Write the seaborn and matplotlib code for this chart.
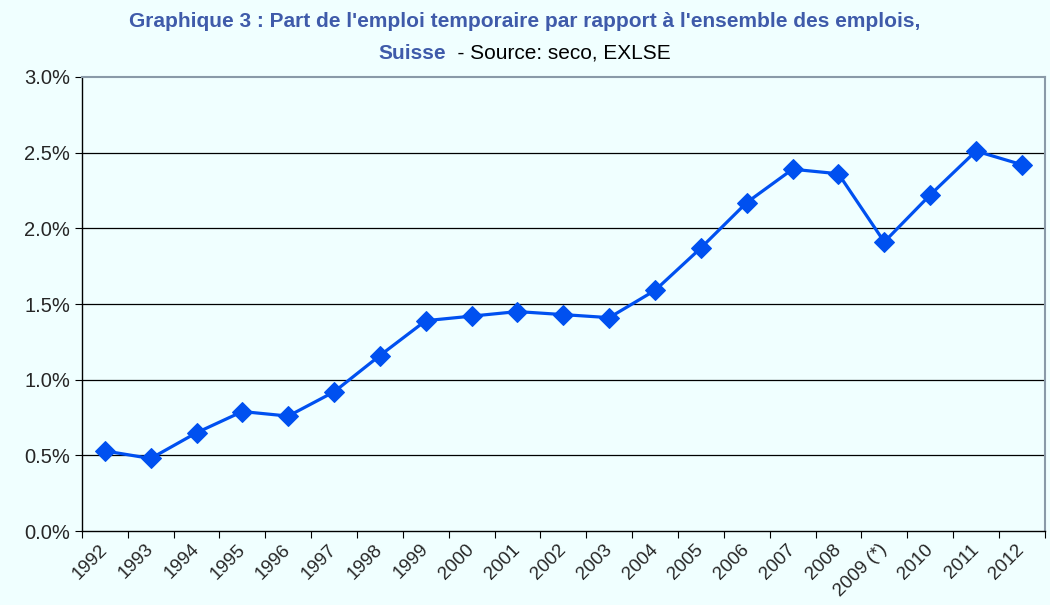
import pandas as pd
import seaborn as sns
import matplotlib.pyplot as plt
import matplotlib.transforms as mtrans
import numpy as np

years = ["1992", "1993", "1994", "1995", "1996", "1997", "1998", "1999", "2000", "2001",
         "2002", "2003", "2004", "2005", "2006", "2007", "2008", "2009 (*)", "2010", "2011", "2012"]
share = [0.53, 0.48, 0.65, 0.79, 0.76, 0.92, 1.16, 1.39, 1.42, 1.45,
         1.43, 1.41, 1.59, 1.87, 2.17, 2.39, 2.36, 1.91, 2.22, 2.51, 2.42]

sns.set_style("white")
plt.rcParams['font.family'] = ['Liberation Sans', 'DejaVu Sans']

bg = '#F0FFFF'
df = pd.DataFrame({"pos": np.arange(len(years)), "share": share})

fig = plt.figure(figsize=(10.5, 6.05), dpi=100, facecolor=bg)
ax = fig.add_axes([0.078, 0.122, 0.917, 0.751])
ax.set_facecolor(bg)

sns.lineplot(data=df, x="pos", y="share", ax=ax, color='#0050F0', lw=2.3,
             marker='D', markersize=10.5, markeredgecolor='#0050F0')

n = len(years)
ax.set_xlim(-0.5, n - 0.5)
ax.set_ylim(0, 3.0)
ax.set_yticks(np.arange(0, 3.01, 0.5))
ax.set_yticklabels([f"{v:.1f}%" for v in np.arange(0, 3.01, 0.5)], fontsize=14.5)
for v in np.arange(0.5, 2.6, 0.5):
    ax.axhline(v, color='black', lw=0.9, zorder=0)

ax.set_xticks(np.arange(-0.5, n, 1.0))
ax.set_xticklabels([])
ax.set_xticks(np.arange(n), minor=True)
ax.set_xticklabels(years, minor=True, rotation=45, ha='right', rotation_mode='anchor', fontsize=13.5)
ax.tick_params(axis='x', which='minor', length=0, pad=7)
ax.tick_params(axis='x', which='major', length=5, direction='out', color='black', bottom=True)
ax.tick_params(axis='y', length=5, direction='out', color='black', left=True)
shift = mtrans.ScaledTranslation(-6 / 100, 0, fig.dpi_scale_trans)
for lab in ax.get_xticklabels(minor=True):
    lab.set_transform(lab.get_transform() + shift)

ax.set_xlabel("")
ax.set_ylabel("")
for s in ['left', 'bottom']:
    ax.spines[s].set_color('black')
    ax.spines[s].set_linewidth(1.0)
for s in ['top', 'right']:
    ax.spines[s].set_color('#8A9AA8')
    ax.spines[s].set_linewidth(1.5)

fig.text(0.5, 0.965, "Graphique 3 : Part de l'emploi temporaire par rapport à l'ensemble des emplois,",
         ha='center', va='center', fontsize=15, fontweight='bold', color='#3F5BAA')
fig.text(0.425, 0.912, "Suisse", ha='right', va='center', fontsize=15,
         fontweight='bold', color='#3F5BAA')
fig.text(0.425, 0.912, "  - Source: seco, EXLSE", ha='left', va='center', fontsize=15, color='black')

fig.savefig("out.png", dpi=100, facecolor=bg)
